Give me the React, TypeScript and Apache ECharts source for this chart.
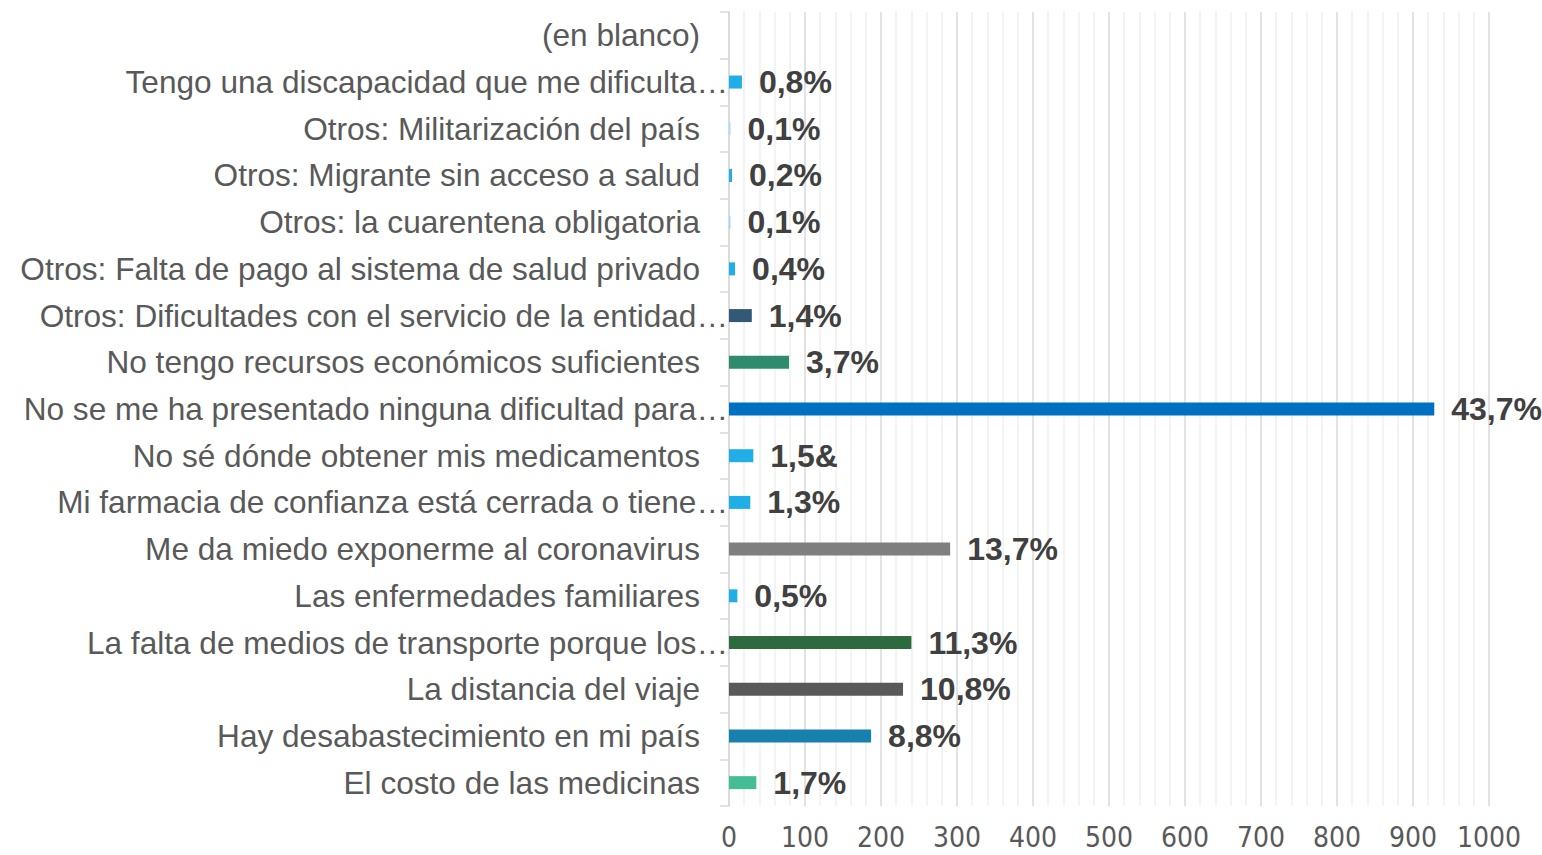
import React, { useEffect, useRef } from "react";
import * as echarts from "echarts";

const categories = [
  "El costo de las medicinas",
  "Hay desabastecimiento en mi país",
  "La distancia del viaje",
  "La falta de medios de transporte porque los…",
  "Las enfermedades familiares",
  "Me da miedo exponerme al coronavirus",
  "Mi farmacia de confianza está cerrada o tiene…",
  "No sé dónde obtener mis medicamentos",
  "No se me ha presentado ninguna dificultad para…",
  "No tengo recursos económicos suficientes",
  "Otros: Dificultades con el servicio de la entidad…",
  "Otros: Falta de pago al sistema de salud privado",
  "Otros: la cuarentena obligatoria",
  "Otros: Migrante sin acceso a salud",
  "Otros: Militarización del país",
  "Tengo una discapacidad que me dificulta…",
  "(en blanco)",
];

const values = [36, 187, 229, 240, 11, 291, 28, 32, 928, 79, 30, 8, 2, 4, 2, 17, 0];

const percentLabels = [
  "1,7%", "8,8%", "10,8%", "11,3%", "0,5%", "13,7%", "1,3%", "1,5&",
  "43,7%", "3,7%", "1,4%", "0,4%", "0,1%", "0,2%", "0,1%", "0,8%", "",
];

const barColors = [
  "#44BC96", "#1680AE", "#595959", "#2D6A3E", "#1FAEE6", "#7F7F7F", "#1FAEE6", "#1FAEE6",
  "#0070C0", "#2E8B6E", "#325A78", "#1FAEE6", "#9ED9F2", "#1FAEE6", "#A8DDF3", "#1FAEE6", "#1FAEE6",
];

const xTicks = { min: 0, max: 1000, interval: 100 };

const FONT = "'Liberation Sans', Arial, sans-serif";

export default function App() {
  const ref = useRef<HTMLDivElement>(null);
  useEffect(() => {
    document.body.style.margin = "0";
    const chart = echarts.init(ref.current!, undefined, { renderer: "svg" });
    chart.setOption({
      animation: false,
      grid: { left: 729, right: 53, top: 12, bottom: 49, containLabel: false },
      xAxis: {
        type: "value",
        min: xTicks.min,
        max: xTicks.max,
        interval: xTicks.interval,
        axisLine: { show: false },
        axisTick: { show: false },
        splitLine: { show: true, lineStyle: { color: "#D9D9D9", width: 1.5 } },
        minorTick: { show: false, splitNumber: 5 },
        minorSplitLine: { show: true, lineStyle: { color: "#EFEFEF", width: 1.5 } },
        axisLabel: {
          color: "#595959",
          fontSize: 28,
          fontFamily: "'Liberation Sans Narrow', 'DejaVu Sans Condensed', 'Liberation Sans', Arial",
          margin: 17,
          formatter: (v: number) => String(v),
        },
      },
      yAxis: {
        type: "category",
        data: categories,
        axisLine: { show: true, lineStyle: { color: "#D9D9D9", width: 1.5 } },
        axisTick: { show: true, length: 9, lineStyle: { color: "#D9D9D9", width: 1.5 } },
        axisLabel: {
          margin: 1,
          color: "#595959",
          fontSize: 31.6,
          fontFamily: FONT,
          formatter: (name: string) =>
            name.endsWith("…") ? `{t|${name}}` : `{n|${name}}`,
          rich: {
            t: { color: "#595959", fontSize: 31.6, fontFamily: FONT },
            n: {
              color: "#595959",
              fontSize: 31.6,
              fontFamily: FONT,
              padding: [0, 28, 0, 0],
            },
          },
        },
      },
      series: [
        {
          type: "bar",
          barWidth: 13,
          data: values.map((v, i) => ({
            value: v,
            itemStyle: { color: barColors[i] },
            label: { formatter: percentLabels[i] },
          })),
          label: {
            show: true,
            position: "right",
            distance: 17,
            color: "#404040",
            fontSize: 32,
            fontWeight: "bold",
            fontFamily: FONT,
          },
        },
      ],
    });
    return () => chart.dispose();
  }, []);
  return <div ref={ref} style={{ width: 1542, height: 855 }} />;
}
